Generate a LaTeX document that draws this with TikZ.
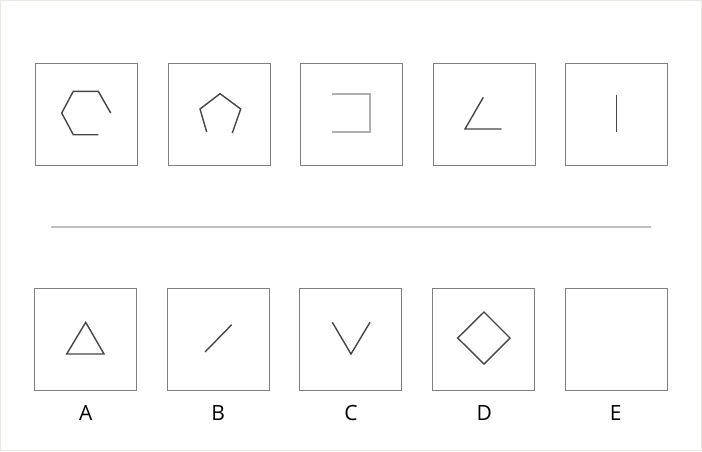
\documentclass[tikz,border=0pt]{standalone}
\usepackage{fontspec}
\setmainfont{Open Sans}
\definecolor{boxgray}{RGB}{128,128,128}
\definecolor{figdark}{RGB}{70,70,70}
\definecolor{figlight}{RGB}{175,175,175}
\definecolor{sepgray}{RGB}{190,190,190}
\definecolor{framegray}{RGB}{236,233,226}
\begin{document}
\begin{tikzpicture}[x=1pt,y=-1pt,
  panel/.style={draw=boxgray,line width=1.2pt,minimum width=102pt,minimum height=102pt,inner sep=0pt,anchor=north west},
  fig/.style={draw=figdark,line width=1.4pt,line join=miter},
  figl/.style={draw=figlight,line width=1.6pt},
  lab/.style={font=\fontsize{21}{24}\selectfont,text=black,inner sep=0pt}]
\useasboundingbox (0,0) rectangle (702,451);
\draw[framegray,line width=1pt] (0.5,0.5) rectangle (701.5,450.5);
% top row
\node[panel] (t1) at (34.5,62.5) {};
\node[panel] (t2) at (167.5,62.5) {};
\node[panel] (t3) at (299.5,62.5) {};
\node[panel] (t4) at (432.5,62.5) {};
\node[panel] (t5) at (564.8,62.5) {};
\draw[fig] (110.7,113)--(98.3,91.3)--(73.3,91.3)--(61.7,113)--(73.3,134.7)--(98.3,134.7);
\draw[fig] (206.7,132)--(200,109)--(220,93.7)--(240.7,109)--(232.3,133);
\draw[figl] (332.3,94)--(370,94)--(370,132)--(332.3,132);
\draw[fig] (483.3,97.3)--(465,129)--(501.7,129);
\draw[fig] (616.7,94.7)--(616.7,132);
% separator
\coordinate (s1) at (51,226.5);
\coordinate (s2) at (651,226.5);
\draw[sepgray,line width=2pt] (s1)--(s2);
% bottom row
\node[panel] (b1) at (34.2,287.5) {};
\node[panel] (b2) at (166.8,287.5) {};
\node[panel] (b3) at (299.2,287.5) {};
\node[panel] (b4) at (431.8,287.5) {};
\node[panel] (b5) at (564.5,287.5) {};
\draw[fig] (85.7,322.3)--(66.7,354)--(104,354)--cycle;
\draw[fig] (205,352)--(231.7,324.7);
\draw[fig] (332.3,322.3)--(351,354)--(370,322.3);
\draw[fig] (484,312)--(510,338)--(484,364)--(457.7,338)--cycle;
\node[lab] (la) at (85.7,412.5) {A};
\node[lab] (lb) at (218.3,412.5) {B};
\node[lab] (lc) at (351,412.5) {C};
\node[lab] (ld) at (484.3,412.5) {D};
\node[lab] (le) at (615.7,412.5) {E};
\end{tikzpicture}
\end{document}
